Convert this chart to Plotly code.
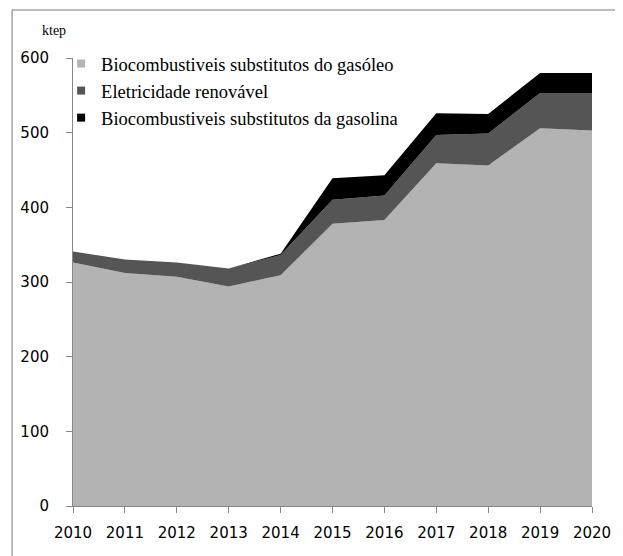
import plotly.graph_objects as go

years = [2010, 2011, 2012, 2013, 2014, 2015, 2016, 2017, 2018, 2019, 2020]
gasoleo = [326, 312, 307, 294, 309, 378, 383, 459, 456, 506, 503]
eletricidade = [15, 18, 19, 24, 27, 32, 33, 38, 43, 47, 50]
gasolina = [0, 0, 0, 0, 2, 29, 27, 29, 26, 27, 27]
names = ["Biocombustiveis substitutos do gasóleo",
         "Eletricidade renovável",
         "Biocombustiveis substitutos da gasolina"]
colors = ["#b3b3b3", "#555555", "#000000"]

W, H = 615, 548
L, R, T, B = 62, 29, 50, 50
PW, PH = W - L - R, H - T - B


def px(x):
    return (x - L) / PW


def py(y):
    return (H - B - y) / PH


fig = go.Figure()
for name, vals, col in zip(names, [gasoleo, eletricidade, gasolina], colors):
    fig.add_trace(go.Scatter(
        x=years, y=vals, name=name, stackgroup="one", mode="none",
        fillcolor=col, line=dict(width=0), showlegend=False))
for name, col in zip(names, colors):
    fig.add_trace(go.Scatter(
        x=[None], y=[None], name=name, mode="markers",
        marker=dict(symbol="square", size=8, color=col), showlegend=True))

tickfont = dict(family="DejaVu Sans", size=15, color="#000")
fig.update_layout(
    width=W, height=H,
    margin=dict(l=L, r=R, t=T, b=B),
    paper_bgcolor="white", plot_bgcolor="white",
    showlegend=True,
    legend=dict(x=px(50), y=py(37), xanchor="left", yanchor="top",
                bgcolor="rgba(0,0,0,0)", traceorder="normal",
                font=dict(family="Liberation Serif", size=18.5, color="#000")),
    xaxis=dict(range=[2010, 2020], tickmode="array", tickvals=years,
               ticktext=[str(y) for y in years], showgrid=False,
               showline=True, linecolor="#888", linewidth=1,
               ticks="outside", ticklen=6, tickcolor="#888",
               ticklabelstandoff=7,
               tickfont=tickfont, zeroline=False),
    yaxis=dict(range=[0, 600], tickvals=[0, 100, 200, 300, 400, 500, 600],
               showgrid=False, showline=True, linecolor="#888", linewidth=1,
               ticks="outside", ticklen=6, tickcolor="#888",
               ticklabelstandoff=14,
               tickfont=tickfont, zeroline=False),
    annotations=[dict(text="ktep", xref="paper", yref="paper",
                      x=px(43), y=py(22),
                      xanchor="center", yanchor="middle", showarrow=False,
                      font=dict(family="Liberation Serif", size=14, color="#000"))],
    shapes=[
        dict(type="line", xref="paper", yref="paper",
             x0=px(0.5), x1=px(0.5), y0=py(2), y1=py(H),
             line=dict(color="#777", width=1)),
        dict(type="line", xref="paper", yref="paper",
             x0=px(0.5), x1=px(W), y0=py(2), y1=py(2),
             line=dict(color="#777", width=1)),
    ],
)

fig.write_html("out.html")
